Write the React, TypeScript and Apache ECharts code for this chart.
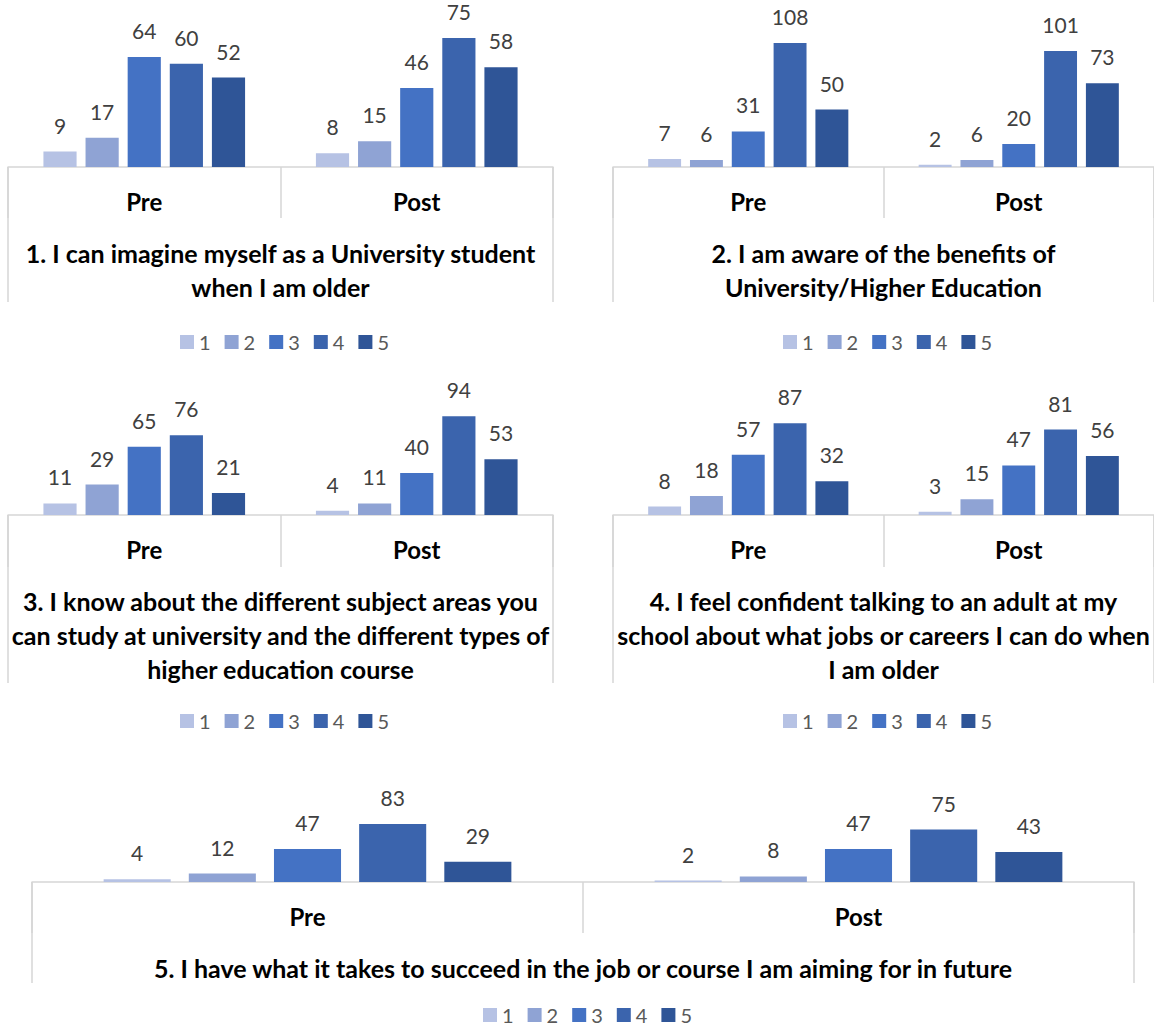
import React, { useEffect, useRef } from "react";
import * as echarts from "echarts";

const categories = ["Pre", "Post"];
const levels = ["1", "2", "3", "4", "5"];
const levelColors = ["#B6C2E4", "#8FA3D4", "#4472C4", "#3B64AD", "#2F5597"];

const q1Pre = [9, 17, 64, 60, 52];
const q1Post = [8, 15, 46, 75, 58];
const q2Pre = [7, 6, 31, 108, 50];
const q2Post = [2, 6, 20, 101, 73];
const q3Pre = [11, 29, 65, 76, 21];
const q3Post = [4, 11, 40, 94, 53];
const q4Pre = [8, 18, 57, 87, 32];
const q4Post = [3, 15, 47, 81, 56];
const q5Pre = [4, 12, 47, 83, 29];
const q5Post = [2, 8, 47, 75, 43];

const questionTitles = [
  "1. I can imagine myself as a University student\nwhen I am older",
  "2. I am aware of the benefits of\nUniversity/Higher Education",
  "3. I know about the different subject areas you\ncan study at university and the different types of\nhigher education course",
  "4. I feel confident talking to an adult at my\nschool about what jobs or careers I can do when\nI am older",
  "5. I have what it takes to succeed in the job or course I am aiming for in future",
];
const valueMax = [80, 120, 100, 100, 90];

const preData = [q1Pre, q2Pre, q3Pre, q4Pre, q5Pre];
const postData = [q1Post, q2Post, q3Post, q4Post, q5Post];

// layout (pixels)
const panels = [
  { left: 8, width: 545, base: 167, pxPerUnit: 1.72, tickShort: 51, tickLong: 135, legendLeft: 180, legendTop: 332 },
  { left: 613, width: 544, base: 167, pxPerUnit: 1.148, tickShort: 51, tickLong: 135, legendLeft: 783, legendTop: 332 },
  { left: 8, width: 545, base: 515, pxPerUnit: 1.05, tickShort: 52, tickLong: 168, legendLeft: 180, legendTop: 711 },
  { left: 613, width: 544, base: 515, pxPerUnit: 1.055, tickShort: 52, tickLong: 168, legendLeft: 783, legendTop: 711 },
  { left: 32, width: 1102, base: 882, pxPerUnit: 0.70, tickShort: 51, tickLong: 101, legendLeft: 483, legendTop: 1005 },
];

const FONT = "Lato";
const GRAY = "#D6D6D6";

export default function App() {
  const ref = useRef<HTMLDivElement>(null);
  useEffect(() => {
    if (!ref.current) return;
    const chart = echarts.init(ref.current, null, { renderer: "svg" });

    const grid: any[] = [];
    const xAxis: any[] = [];
    const yAxis: any[] = [];
    const legend: any[] = [];
    const series: any[] = [];

    panels.forEach((p, i) => {
      const h = valueMax[i] * p.pxPerUnit;
      grid.push({ left: p.left, width: p.width, top: p.base - h, height: h });
      xAxis.push({
        type: "category",
        gridIndex: i,
        position: "bottom",
        data: categories,
        axisLine: { show: true, lineStyle: { color: GRAY, width: 1.5 } },
        axisTick: { show: true, alignWithLabel: false, interval: 0, length: p.tickShort, lineStyle: { color: GRAY, width: 1.5 } },
        axisLabel: { interval: 0, margin: 20, fontFamily: FONT, fontSize: 24, fontWeight: "bold", color: "#000000", lineHeight: 28 },
      });
      xAxis.push({
        type: "category",
        gridIndex: i,
        position: "bottom",
        offset: 0,
        data: [questionTitles[i]],
        axisLine: { show: false },
        axisTick: { show: true, alignWithLabel: false, interval: 0, length: p.tickLong, lineStyle: { color: GRAY, width: 1.5 } },
        axisLabel: { interval: 0, margin: 69, fontFamily: FONT, fontSize: 25, fontWeight: "bold", color: "#000000", lineHeight: 34, align: "center" },
      });
      yAxis.push({ type: "value", gridIndex: i, min: 0, max: valueMax[i], show: false, splitLine: { show: false } });
      legend.push({
        data: levels,
        left: p.legendLeft,
        top: p.legendTop,
        padding: 0,
        orient: "horizontal",
        icon: "rect",
        itemWidth: 14,
        itemHeight: 14,
        itemGap: 14,
        textStyle: { fontFamily: FONT, fontSize: 20, lineHeight: 16, color: "#595959" },
        selectedMode: false,
      });
      levels.forEach((lv, k) => {
        series.push({
          type: "bar",
          name: lv,
          xAxisIndex: i * 2,
          yAxisIndex: i,
          data: [preData[i][k], postData[i][k]],
          barGap: "27%",
          barCategoryGap: "26%",
          itemStyle: { color: levelColors[k] },
          label: { show: true, position: "top", distance: 16, fontFamily: FONT, fontSize: 21, color: "#404040" },
        });
      });
    });

    chart.setOption({
      animation: false,
      textStyle: { fontFamily: FONT },
      grid,
      xAxis,
      yAxis,
      legend,
      series,
    });
    return () => chart.dispose();
  }, []);
  return (
    <div
      ref={ref}
      style={{ position: "fixed", left: 0, top: 0, width: 1154, height: 1030, background: "#ffffff" }}
    />
  );
}
